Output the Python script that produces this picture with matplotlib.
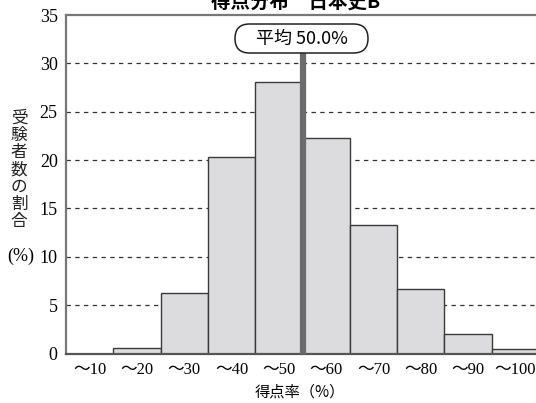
import matplotlib.pyplot as plt
from matplotlib.patches import FancyBboxPatch

# 得点率の区分と受験者数の割合 (%)
bins = ['〜10', '〜20', '〜30', '〜40', '〜50', '〜60', '〜70', '〜80', '〜90', '〜100']
ratios = [0.0, 0.6, 6.3, 20.3, 28.1, 22.3, 13.3, 6.7, 2.0, 0.5]
mean_score = 50.0
title = '得点分布　日本史B'

serif = ['Liberation Serif', 'DejaVu Serif']
cjk = ['Noto Sans CJK JP', 'DejaVu Sans']

fig = plt.figure(figsize=(5.36, 4.03), dpi=100)
ax = fig.add_axes([66 / 536, 1 - 353.5 / 403, (536 - 66) / 536, 338.5 / 403])

x = [i + 0.5 for i in range(len(bins))]
ax.bar(x, ratios, width=1.0, color='#dcdcde', edgecolor='#3a3a3a', linewidth=1.0, zorder=2)

# 平均点の縦線 (区分幅10%を1単位とする)
mx = mean_score / 10
ax.plot([mx, mx], [0, 31.1], color='#6b6b6e', linewidth=4.5, zorder=3, solid_capstyle='butt')

ax.set_xlim(0, 470 / 47.3)
ax.set_ylim(0, 35)
ax.set_yticks(range(0, 36, 5))
ax.set_xticks(x)
ax.set_xticklabels(bins, family=serif + cjk, fontsize=12)
for lab in ax.get_yticklabels():
    lab.set_family(serif)
    lab.set_fontsize(13)
ax.tick_params(length=0, pad=6)

for y in range(5, 31, 5):
    ax.axhline(y, color='#333333', linewidth=0.9, linestyle=(0, (3.5, 3.5)), zorder=1)

for s in ['left', 'top']:
    ax.spines[s].set_color('#777777')
    ax.spines[s].set_linewidth(1.6)
ax.spines['bottom'].set_color('#555555')
ax.spines['bottom'].set_linewidth(1.6)
ax.spines['right'].set_visible(False)

# 平均のラベル (インチ単位で枠を置く)
box = FancyBboxPatch((2.35, 4.03 - 0.53), 1.33, 0.29, boxstyle='round,pad=0,rounding_size=0.145',
                     transform=fig.dpi_scale_trans, facecolor='white', edgecolor='#222222',
                     linewidth=1.1, zorder=4)
fig.patches.append(box)
fig.text(301.5 / 536, 1 - 39 / 403, f'平均 {mean_score:.1f}%', ha='center', va='center',
         family=cjk, fontsize=13, zorder=5)

# 縦書きの軸ラベル
fig.text(19 / 536, 1 - 170 / 403, '受\n験\n者\n数\nの\n割\n合', ha='center', va='center',
         family=cjk, fontsize=12, linespacing=1.02, color='#222222')
fig.text(21 / 536, 1 - 256 / 403, '(%)', ha='center', va='center', family=serif, fontsize=13)

fig.text(300 / 536, 1 - 392 / 403, '得点率（%）', ha='center', va='center', family=cjk, fontsize=11)
fig.text(296 / 536, 1 - 2 / 403, title, ha='center', va='center', family=cjk,
         fontsize=14, fontweight='bold')

fig.savefig('out.png', dpi=100)
